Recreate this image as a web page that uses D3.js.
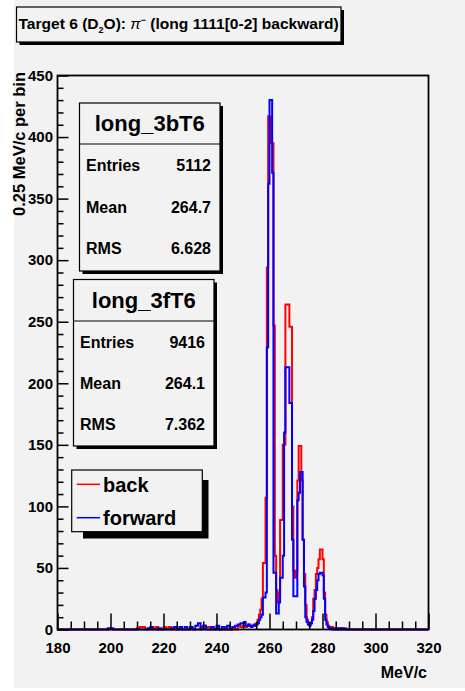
<!DOCTYPE html>
<html><head><meta charset="utf-8">
<script src="https://cdn.jsdelivr.net/npm/d3@7"></script>
<style>
body{margin:0;background:#fff}
svg{display:block}
text{font-family:"Liberation Sans",Arial,Helvetica,sans-serif;font-weight:bold;fill:#000}
</style>
</head><body>
<svg id="c" width="465" height="691"></svg>
<script>
// ---------- data ----------
const xMajorTicks = [180, 200, 220, 240, 260, 280, 300, 320];
const yMajorTicks = [0, 50, 100, 150, 200, 250, 300, 350, 400, 450];

// peak region: 0.5 MeV/c bins starting at 250.0
const peakStart = 250.0;
const peakWidth = 0.5;
const peakBack = [3,2,2,3,4,3,2,3,4,3, 5,8,12,16,25,54,54,107,294,417,
  417,395,395,247,60,32,22,30,89,89, 150,150,264,264,264,246,246,100,48,42,
  48,121,149,149,121,73,45,20,8,5, 4,5,10,25,32,45,50,57,65,65,
  57,30,12,6,3,2,1,2];
const peakFwd = [5,6,3,3,4,3,2,3,3,4, 4,5,8,10,12,26,26,30,229,362,
  430,430,371,46,46,13,13,22,42,42, 60,160,213,213,213,184,184,73,27,27,
  27,105,111,128,128,73,35,10,6,4, 3,5,8,15,25,32,40,45,46,46,
  44,25,8,4,2,1,1,0];

// low-level tails: 1 MeV/c bins (low edge, content)
const backTailX = [210,211,212,216,217,220,221,222,226,230,234,235,236,237,240,243,246,248,249,284,286,288];
const backTailY = [1,2,2,1,2,2,1,2,1,1,2,3,2,2,1,2,2,3,2,1,1,1];
const fwdTailX = [199,200,214,215,218,223,224,226,228,230,232,233,235,238,240,242,244,246,247,248,249,285,287];
const fwdTailY = [1,1,1,2,1,1,2,2,2,2,3,5,3,2,3,2,3,2,3,4,5,1,1];

const statsBack = {name:"long_3bT6", entries:"5112", mean:"264.7", rms:"6.628"};
const statsFwd  = {name:"long_3fT6", entries:"9416", mean:"264.1", rms:"7.362"};
const legendLabels = ["back", "forward"];
const colors = {back:"#ff0000", fwd:"#0000ff"};

// ---------- build histograms (0.5 MeV bins over 180..320) ----------
const xMin = 180, xMax = 320, binW = 0.5;
const nBins = Math.round((xMax - xMin) / binW);
function buildHist(tailX, tailY, peak) {
  const h = new Array(nBins).fill(0);
  tailX.forEach((x0, i) => {
    for (let k = 0; k < 2; k++) {
      const b = Math.round((x0 + k * binW - xMin) / binW);
      if (b >= 0 && b < nBins) h[b] = tailY[i];
    }
  });
  peak.forEach((v, i) => {
    const b = Math.round((peakStart + i * peakWidth - xMin) / binW);
    if (b >= 0 && b < nBins) h[b] = v;
  });
  return h;
}
const histBack = buildHist(backTailX, backTailY, peakBack);
const histFwd = buildHist(fwdTailX, fwdTailY, peakFwd);

// ---------- layout ----------
const svg = d3.select("#c");
svg.append("rect").attr("x", 14).attr("y", 0).attr("width", 451).attr("height", 688).attr("fill", "#f2f2f2");

const L = 57.5, R = 428.5, T = 75.5, B = 629.5;
const x = d3.scaleLinear().domain([xMin, xMax]).range([L, R]);
const y = d3.scaleLinear().domain([0, 450]).range([B, T]);

// histograms
const line = d3.line().x(d => x(d[0])).y(d => y(d[1])).curve(d3.curveStepAfter);
function pts(h) {
  const p = h.map((v, i) => [xMin + i * binW, v]);
  p.push([xMax, h[h.length - 1]]);
  return p;
}
const gH = svg.append("g");
gH.append("path").attr("d", line(pts(histBack))).attr("fill", "none")
  .attr("stroke", colors.back).attr("stroke-width", 2);
gH.append("path").attr("d", line(pts(histFwd))).attr("fill", "none")
  .attr("stroke", colors.fwd).attr("stroke-width", 2);

// axes
const xMinor = d3.range(180, 321, 5).filter(v => !xMajorTicks.includes(v));
const yMinor = d3.range(0, 451, 10).filter(v => !yMajorTicks.includes(v));

const gx = svg.append("g").attr("transform", `translate(0,${B})`);
gx.call(d3.axisBottom(x).tickValues(xMajorTicks).tickSize(-16).tickPadding(13).tickFormat(d3.format("d")));
const gx2 = svg.append("g").attr("transform", `translate(0,${B})`);
gx2.call(d3.axisBottom(x).tickValues(xMinor).tickSize(-8).tickFormat(""));

const gy = svg.append("g").attr("transform", `translate(${L},0)`);
gy.call(d3.axisLeft(y).tickValues(yMajorTicks).tickSize(-11).tickPadding(4.5).tickFormat(d3.format("d")));
const gy2 = svg.append("g").attr("transform", `translate(${L},0)`);
gy2.call(d3.axisLeft(y).tickValues(yMinor).tickSize(-6).tickFormat(""));

[gx, gx2, gy, gy2].forEach(g => {
  g.select(".domain").remove();
  g.selectAll(".tick line").attr("stroke", "#000").attr("stroke-width", 1.5);
  g.selectAll(".tick text").attr("font-size", 15).attr("fill", "#000")
    .attr("font-family", '"Liberation Sans",Arial,sans-serif').attr("font-weight", "bold");
});

// frame
svg.append("rect").attr("x", L).attr("y", T).attr("width", R - L).attr("height", B - T)
  .attr("fill", "none").attr("stroke", "#000").attr("stroke-width", 1.8);

// axis titles
svg.append("text").attr("x", 427).attr("y", 678).attr("text-anchor", "end")
  .attr("font-size", 16).text("MeV/c");
svg.append("text").attr("transform", "translate(25,72) rotate(-90)").attr("text-anchor", "end")
  .attr("font-size", 16.5).text("0.25 MeV/c per bin");

// title box
function boxWithShadow(bx, by, bw, bh, off) {
  svg.append("rect").attr("x", bx + off).attr("y", by + off).attr("width", bw).attr("height", bh).attr("fill", "#000");
  svg.append("rect").attr("x", bx).attr("y", by).attr("width", bw).attr("height", bh)
    .attr("fill", "#f2f2f2").attr("stroke", "#000").attr("stroke-width", 1.2);
}
boxWithShadow(16.5, 7, 324.5, 35, 3);
const title = svg.append("text").attr("x", 18.5).attr("y", 29).attr("font-size", 15);
title.append("tspan").text("Target 6 (D");
title.append("tspan").attr("font-size", 9).attr("dy", 4).text("2");
title.append("tspan").attr("dy", -4).text("O): ");
title.append("tspan").attr("font-weight", "normal").attr("font-style", "italic").text("π");
title.append("tspan").attr("font-size", 9).attr("dy", -6).text("−");
title.append("tspan").attr("dy", 6).text(" (long 1111[0-2] backward)");
(function fit() {
  const w = title.node().getComputedTextLength();
  const target = 321;
  if (w > 0) {
    const f = 15 * target / w;
    title.attr("font-size", f);
  }
})();

// stats boxes
function statsBox(s, bx, by, bw, bh, divY, rows) {
  boxWithShadow(bx, by, bw, bh, 3);
  svg.append("line").attr("x1", bx).attr("x2", bx + bw).attr("y1", divY).attr("y2", divY)
    .attr("stroke", "#000").attr("stroke-width", 1.2);
  svg.append("text").attr("x", bx + bw / 2).attr("y", by + (divY - by) / 2 + 7.5)
    .attr("text-anchor", "middle").attr("font-size", 22).text(s.name);
  const labels = ["Entries", "Mean", "RMS"];
  const vals = [s.entries, s.mean, s.rms];
  labels.forEach((lab, i) => {
    svg.append("text").attr("x", bx + 6.5).attr("y", rows[i]).attr("font-size", 16).text(lab);
    svg.append("text").attr("x", bx + bw - 9).attr("y", rows[i]).attr("text-anchor", "end")
      .attr("font-size", 16).text(vals[i]);
  });
}
statsBox(statsBack, 79.5, 103, 140.5, 168, 144, [171, 212.5, 253.5]);
statsBox(statsFwd, 73.5, 279.5, 140.5, 166.5, 321, [347.5, 389, 430]);

// legend
svg.append("rect").attr("x", 83).attr("y", 480).attr("width", 125.5).attr("height", 58.5).attr("fill", "#000");
svg.append("rect").attr("x", 71.7).attr("y", 470).attr("width", 130.6).attr("height", 61.7)
  .attr("fill", "#f2f2f2").attr("stroke", "#000").attr("stroke-width", 1.2);
const legY = [484.3, 517.7];
const legC = [colors.back, colors.fwd];
legendLabels.forEach((lab, i) => {
  svg.append("line").attr("x1", 76.7).attr("x2", 100).attr("y1", legY[i]).attr("y2", legY[i])
    .attr("stroke", legC[i]).attr("stroke-width", 1.5);
  svg.append("text").attr("x", 103).attr("y", legY[i] + 7.3).attr("font-size", 20).text(lab);
});
</script>
</body></html>
